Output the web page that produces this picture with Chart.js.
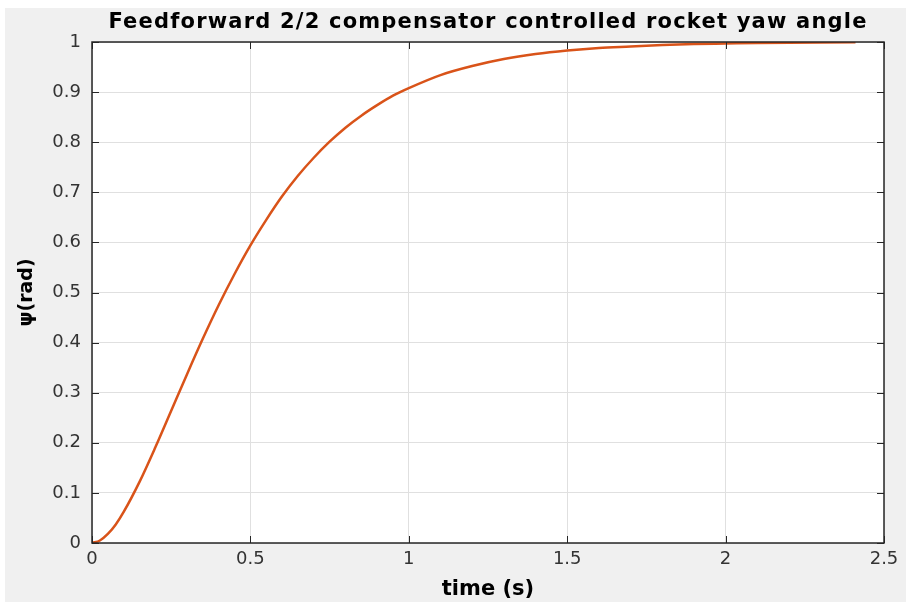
<!DOCTYPE html>
<html>
<head>
<meta charset="utf-8">
<script src="https://cdn.jsdelivr.net/npm/chart.js@4.4.1/dist/chart.umd.min.js"></script>
<style>
  html, body { margin: 0; padding: 0; background: #f0f0f0; }
  #wrap { width: 906px; height: 602px; }
</style>
</head>
<body>
<div id="wrap"><canvas id="c" width="906" height="602"></canvas></div>
<script>
// ─── DATOS ─────────────────────────────────────────────
const chartTitle = "Feedforward 2/2 compensator controlled rocket yaw angle";
const xTitle = "time (s)";
const yTitle = "\u03c8(rad)";

const xTicks = [0, 0.5, 1, 1.5, 2, 2.5];
const yTicks = [0, 0.1, 0.2, 0.3, 0.4, 0.5, 0.6, 0.7, 0.8, 0.9, 1];

// time (s) y yaw (rad)
const time = [0, 0.025, 0.05, 0.075, 0.1, 0.15, 0.2, 0.25, 0.3, 0.35, 0.4, 0.45, 0.5,
              0.55, 0.6, 0.65, 0.7, 0.75, 0.8, 0.85, 0.9, 0.95, 1.0,
              1.1, 1.2, 1.3, 1.4, 1.5, 1.6, 1.7, 1.8, 1.9, 2.0,
              2.1, 2.2, 2.3, 2.41];
const yaw  = [0, 0.005, 0.018, 0.037, 0.062, 0.122, 0.191, 0.264, 0.337, 0.408, 0.475, 0.537, 0.594,
              0.645, 0.692, 0.733, 0.769, 0.801, 0.829, 0.853, 0.874, 0.893, 0.908,
              0.934, 0.952, 0.966, 0.976, 0.983, 0.988, 0.991, 0.994, 0.996, 0.997,
              0.998, 0.9986, 0.999, 0.9993];

// ─── ESTILO ────────────────────────────────────────────
const AX = "#262626";
const TXT = "#333333";
const GRID = "#e0e0e0";
const LINE = "#d95319";
const FONT = "'DejaVu Sans', Verdana, sans-serif";

// fondo gris, caja, marcas hacia adentro y título centrado sobre el área (estilo MATLAB)
const matlabAxes = {
  id: "matlabAxes",
  beforeDraw(chart) {
    const { ctx, chartArea: a } = chart;
    ctx.save();
    ctx.fillStyle = "#f0f0f0";
    ctx.fillRect(0, 0, chart.width, chart.height);
    ctx.fillStyle = "#ffffff";
    ctx.fillRect(0, 0, chart.width, 8);
    ctx.fillRect(0, 0, 5, chart.height);
    ctx.fillRect(a.left, a.top, a.right - a.left, a.bottom - a.top);
    ctx.restore();
  },
  afterDatasetsDraw(chart) {
    const { ctx, chartArea: a, scales } = chart;
    ctx.save();
    ctx.strokeStyle = AX;
    ctx.lineWidth = 1;
    ctx.beginPath();
    xTicks.forEach(v => {
      const px = Math.round(scales.x.getPixelForValue(v)) + 0.5;
      ctx.moveTo(px, a.bottom); ctx.lineTo(px, a.bottom - 7);
      ctx.moveTo(px, a.top);    ctx.lineTo(px, a.top + 7);
    });
    yTicks.forEach(v => {
      const py = Math.round(scales.y.getPixelForValue(v)) + 0.5;
      ctx.moveTo(a.left, py);  ctx.lineTo(a.left + 7, py);
      ctx.moveTo(a.right, py); ctx.lineTo(a.right - 7, py);
    });
    ctx.stroke();
    ctx.lineWidth = 1.5;
    ctx.strokeRect(a.left, a.top, a.right - a.left, a.bottom - a.top);

    // título
    ctx.fillStyle = "#000";
    ctx.font = `bold 21px ${FONT}`;
    if ("letterSpacing" in ctx) ctx.letterSpacing = "1.2px";
    ctx.textAlign = "center";
    ctx.textBaseline = "middle";
    ctx.fillText(chartTitle, (a.left + a.right) / 2, 23);
    ctx.restore();
  }
};

new Chart(document.getElementById("c"), {
  type: "line",
  data: {
    datasets: [{
      data: time.map((t, i) => ({ x: t, y: yaw[i] })),
      borderColor: LINE,
      borderWidth: 2.5,
      pointRadius: 0,
      cubicInterpolationMode: "monotone",
      fill: false
    }]
  },
  options: {
    responsive: false,
    animation: false,
    events: [],
    layout: { padding: { left: 0, right: 22, top: 42, bottom: 0 } },
    plugins: {
      legend: { display: false },
      tooltip: { enabled: false },
      title: { display: false }
    },
    scales: {
      x: {
        type: "linear",
        min: 0, max: 2.5,
        afterBuildTicks: s => { s.ticks = xTicks.map(v => ({ value: v })); },
        afterFit: s => { s.height = 59; },
        ticks: {
          color: TXT, padding: 6,
          font: { family: FONT, size: 18 },
          callback: v => String(v)
        },
        grid: { color: GRID, drawTicks: false },
        border: { display: false },
        title: {
          display: true, text: xTitle, color: "#000",
          font: { family: FONT, size: 21, weight: "bold" },
          padding: { top: 4, bottom: 0 }
        }
      },
      y: {
        min: 0, max: 1,
        afterBuildTicks: s => { s.ticks = yTicks.map(v => ({ value: v })); },
        afterFit: s => { s.width = 92; },
        ticks: {
          color: TXT, padding: 11,
          font: { family: FONT, size: 18 },
          callback: v => String(v)
        },
        grid: { color: GRID, drawTicks: false },
        border: { display: false },
        title: {
          display: true, text: yTitle, color: "#000",
          font: { family: FONT, size: 19, weight: "bold" },
          padding: { top: 16, bottom: 0 }
        }
      }
    }
  },
  plugins: [matlabAxes]
});
</script>
</body>
</html>
